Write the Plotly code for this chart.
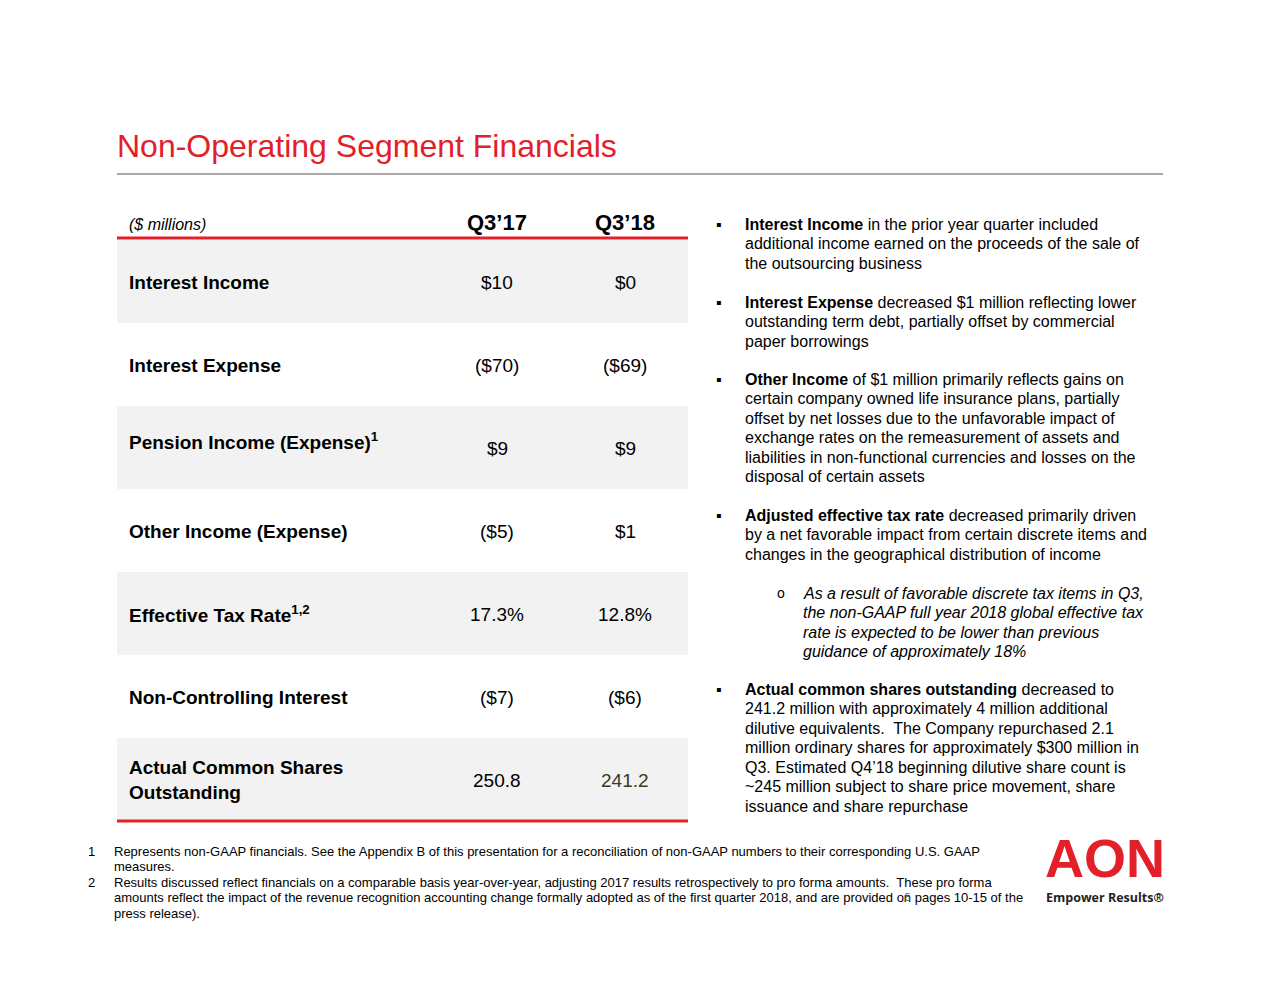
import plotly.graph_objects as go

# ---- table data ----
columns = ["Q3’17", "Q3’18"]
row_labels = [
    "Interest Income",
    "Interest Expense",
    "Pension Income (Expense)<sup>1</sup>",
    "Other Income (Expense)",
    "Effective Tax Rate<sup>1,2</sup>",
    "Non-Controlling Interest",
    "Actual Common Shares<br>Outstanding",
]
q3_17 = ["$10", "($70)", "$9", "($5)", "17.3%", "($7)", "250.8"]
q3_18 = ["$0", "($69)", "$9", "$1", "12.8%", "($6)", "241.2"]

# ---- commentary ----
bullets = [
    ["<b>Interest Income</b> in the prior year quarter included",
     "additional income earned on the proceeds of the sale of",
     "the outsourcing business"],
    ["<b>Interest Expense</b> decreased $1 million reflecting lower",
     "outstanding term debt, partially offset by commercial",
     "paper borrowings"],
    ["<b>Other Income</b> of $1 million primarily reflects gains on",
     "certain company owned life insurance plans, partially",
     "offset by net losses due to the unfavorable impact of",
     "exchange rates on the remeasurement of assets and",
     "liabilities in non-functional currencies and losses on the",
     "disposal of certain assets"],
    ["<b>Adjusted effective tax rate</b> decreased primarily driven",
     "by a net favorable impact from certain discrete items and",
     "changes in the geographical distribution of income"],
    ["<b>Actual common shares outstanding</b> decreased to",
     "241.2 million with approximately 4 million additional",
     "dilutive equivalents.  The Company repurchased 2.1",
     "million ordinary shares for approximately $300 million in",
     "Q3. Estimated Q4’18 beginning dilutive share count is",
     "~245 million subject to share price movement, share",
     "issuance and share repurchase"],
]
sub_bullet = [
    "As a result of favorable discrete tax items in Q3,",
    "the non-GAAP full year 2018 global effective tax",
    "rate is expected to be lower than previous",
    "guidance of approximately 18%",
]
footnotes = [
    ("1", ["Represents non-GAAP financials. See the Appendix B of this presentation for a reconciliation of non-GAAP numbers to their corresponding U.S. GAAP",
           "measures."]),
    ("2", ["Results discussed reflect financials on a comparable basis year-over-year, adjusting 2017 results retrospectively to pro forma amounts.  These pro forma",
           "amounts reflect the impact of the revenue recognition accounting change formally adopted as of the first quarter 2018, and are provided on pages 10-15 of the",
           "press release)."]),
]

RED = "#E3202A"
FONT = "Arial, Liberation Sans, sans-serif"

fig = go.Figure()
shapes = []
ann = []


def text(x, y, s, size, color="#000", xanchor="left", yanchor="middle", family=FONT):
    ann.append(dict(x=x, y=y, text=s, showarrow=False, xanchor=xanchor, yanchor=yanchor,
                    font=dict(size=size, color=color, family=family), align="left"))


# title + rule
text(115, 146, "Non-Operating Segment Financials", 32, RED)
shapes.append(dict(type="line", x0=117, x1=1163, y0=174, y1=174, line=dict(color="#555", width=1)))

# table
tab_x0, tab_x1 = 117, 688
col_x = [497, 625]
row_top, row_h = 240, 83

text(127, 224, "<i>($ millions)</i>", 16)
for cx, c in zip(col_x, columns):
    text(cx, 222, "<b>" + c + "</b>", 22, xanchor="center")

for i, lab in enumerate(row_labels):
    top = row_top + i * row_h
    if i % 2 == 0:
        shapes.append(dict(type="rect", x0=tab_x0, x1=tab_x1, y0=top, y1=top + row_h,
                           fillcolor="#F2F2F2", line=dict(width=0), layer="below"))
    ly = top + (35 if "Pension" in lab else 42)
    text(127, ly, "<b>" + lab + "</b>", 19)
    text(col_x[0], top + 42, q3_17[i], 19, xanchor="center")
    text(col_x[1], top + 42, q3_18[i], 19, color="#3A3A22" if i == len(row_labels) - 1 else "#000",
         xanchor="center")

shapes.append(dict(type="line", x0=tab_x0, x1=tab_x1, y0=238, y1=238, line=dict(color=RED, width=3)))
shapes.append(dict(type="line", x0=tab_x0, x1=tab_x1, y0=821, y1=821, line=dict(color=RED, width=3)))

# bullets
bullet_y = [224, 302, 379, 515, 689]
line_h = 19.5
for by, lines in zip(bullet_y, bullets):
    text(714, by, "▪", 16)
    for j, ln in enumerate(lines):
        text(743, by + j * line_h, ln, 16)
text(775, 593, "o", 14)
for j, ln in enumerate(sub_bullet):
    text(801, 593 + j * line_h, "<i>" + ln + "</i>", 16)

# footnotes
fy = 851
for num, lines in footnotes:
    text(86, fy, num, 13)
    for ln in lines:
        text(112, fy, ln, 13)
        fy += 15.5
text(903, 897, "5", 10, color="#666")

# logo
text(1105, 858, "<b>AON</b>", 54, RED, xanchor="center")
text(1105, 897, "<b>Empower Results®</b>", 12.5, "#222", xanchor="center",
     family="Open Sans, sans-serif")

# page body has an 8px margin, so shift the pixel-mapped axes by that much
fig.update_layout(
    width=1280, height=989,
    margin=dict(l=0, r=0, t=0, b=0),
    plot_bgcolor="white", paper_bgcolor="white",
    xaxis=dict(range=[8, 1288], visible=False, fixedrange=True),
    yaxis=dict(range=[997, 8], visible=False, fixedrange=True),
    shapes=shapes, annotations=ann, showlegend=False,
)

fig.write_html("out.html")
